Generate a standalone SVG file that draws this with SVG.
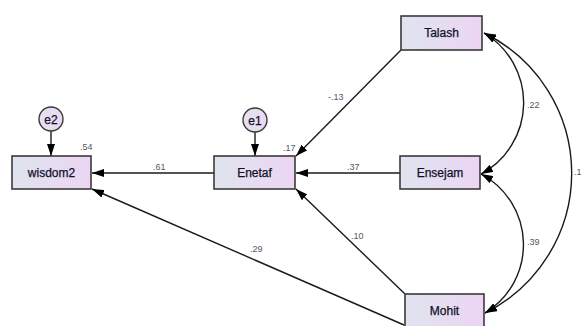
<svg xmlns="http://www.w3.org/2000/svg" width="582" height="326" viewBox="0 0 582 326">
  <defs>
    <linearGradient id="boxFill" x1="0" y1="0" x2="1" y2="0">
      <stop offset="0" stop-color="#dfe4ee"/>
      <stop offset="1" stop-color="#ecd5f3"/>
    </linearGradient>
    <linearGradient id="errFill" x1="0" y1="0" x2="1" y2="0">
      <stop offset="0" stop-color="#e4e2f0"/>
      <stop offset="1" stop-color="#ecd8f2"/>
    </linearGradient>
    <marker id="arrow" viewBox="0 0 12 8" refX="12" refY="4" markerWidth="12" markerHeight="8" markerUnits="userSpaceOnUse" orient="auto-start-reverse">
      <path d="M0,0 L12,4 L0,8 Z" fill="#000"/>
    </marker>
  </defs>
  <style>
    .box { fill: url(#boxFill); stroke: #3a3a3a; stroke-width: 1.6; }
    .err { fill: url(#errFill); stroke: #3a3a3a; stroke-width: 1.4; }
    .name { font-family: "Liberation Sans", Arial, sans-serif; font-size: 12px; fill: #101028; text-anchor: middle; stroke: #101028; stroke-width: 0.25; }
    .coef { font-family: "Liberation Sans", Arial, sans-serif; font-size: 9px; fill: #555566; }
    .path { fill: none; stroke: #1a1a1a; stroke-width: 1.4; }
  </style>

  <rect width="582" height="326" fill="#ffffff"/>

  <!-- connectors: regression paths and covariances -->
  <g id="connectors">
    <line class="path" x1="51" y1="131" x2="51" y2="156" marker-end="url(#arrow)"/>
    <line class="path" x1="255" y1="132" x2="255" y2="156" marker-end="url(#arrow)"/>
    <line class="path" x1="214" y1="173" x2="92" y2="173" marker-end="url(#arrow)"/>
    <line class="path" x1="400" y1="173" x2="296" y2="173" marker-end="url(#arrow)"/>
    <line class="path" x1="401" y1="50" x2="296" y2="156" marker-end="url(#arrow)"/>
    <line class="path" x1="405" y1="294" x2="296" y2="189" marker-end="url(#arrow)"/>
    <line class="path" x1="404" y1="325" x2="92" y2="189" marker-end="url(#arrow)"/>
    <path class="path" d="M484,33 A81,81 0 0 1 481,174" marker-start="url(#arrow)" marker-end="url(#arrow)"/>
    <path class="path" d="M481,174 A80,80 0 0 1 485,313" marker-start="url(#arrow)" marker-end="url(#arrow)"/>
    <path class="path" d="M484,33 A156,156 0 0 1 485,313" marker-start="url(#arrow)" marker-end="url(#arrow)"/>

    <text class="coef" x="153" y="170">.61</text>
    <text class="coef" x="347" y="170">.37</text>
    <text class="coef" x="328" y="100">-.13</text>
    <text class="coef" x="351" y="239">.10</text>
    <text class="coef" x="250" y="252">.29</text>
    <text class="coef" x="527" y="108">.22</text>
    <text class="coef" x="527" y="245">.39</text>
    <text class="coef" x="574" y="175">.1</text>
  </g>

  <g id="e2">
    <circle class="err" cx="51" cy="119" r="12"/>
    <text class="name" x="51" y="123.5">e2</text>
  </g>
  <g id="e1">
    <circle class="err" cx="255" cy="120" r="12"/>
    <text class="name" x="255" y="124.5">e1</text>
  </g>
  <g id="wisdom2">
    <rect class="box" x="12" y="156" width="79" height="33"/>
    <text class="name" x="51.5" y="177">wisdom2</text>
    <text class="coef" x="80" y="150">.54</text>
  </g>
  <g id="Enetaf">
    <rect class="box" x="214" y="156" width="81" height="33"/>
    <text class="name" x="254.5" y="177">Enetaf</text>
    <text class="coef" x="283" y="151">.17</text>
  </g>
  <g id="Talash">
    <rect class="box" x="401" y="16" width="81" height="34"/>
    <text class="name" x="441.5" y="37">Talash</text>
  </g>
  <g id="Ensejam">
    <rect class="box" x="400" y="156" width="80" height="33"/>
    <text class="name" x="440" y="177">Ensejam</text>
  </g>
  <g id="Mohit">
    <rect class="box" x="405" y="294" width="79" height="34"/>
    <text class="name" x="444.5" y="315">Mohit</text>
  </g>
</svg>
